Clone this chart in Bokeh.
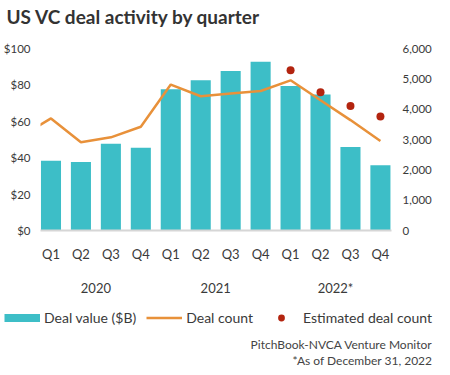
from bokeh.plotting import figure
from bokeh.layouts import column
from bokeh.models import (Range1d, LinearAxis, FixedTicker, NumeralTickFormatter,
                          Legend, LegendItem, Label)
from bokeh.embed import file_html
from bokeh.resources import INLINE

# ---- data ----
quarters = ["Q1", "Q2", "Q3", "Q4"] * 3
years = ["2020", "2021", "2022*"]
deal_value = [38.3, 37.7, 47.7, 45.4, 77.6, 82.5, 87.6, 92.7, 79.4, 74.7, 45.9, 35.9]
deal_count = [3695, 2908, 3072, 3420, 4810, 4426, 4515, 4600, 4951, 4295, 3640, 2950]
prior_deal_count = 3110          # Q4 2019, the line enters from the left edge
estimated_count = [5279, 4557, 4108, 3760]   # 2022 Q1-Q4
value_ticks = [0, 20, 40, 60, 80, 100]
count_ticks = [0, 1000, 2000, 3000, 4000, 5000, 6000]
legend_labels = ["Deal value ($B)", "Deal count", "Estimated deal count"]
source_lines = ["PitchBook-NVCA Venture Monitor", "*As of December 31, 2022"]

TEAL = "#3dbec7"
ORANGE = "#e8913a"
RED = "#b3240f"
TXT = "#3a3a3a"
FONT = "Lato"
W = 434

idx = list(range(len(quarters)))
line_x = [-1] + idx
line_y = [prior_deal_count] + deal_count
est_x = idx[-len(estimated_count):]
year_pos = [sum(idx[4 * i:4 * i + 4]) / 4 for i in range(len(years))]

# ---------------- main chart ----------------
p = figure(width=W, height=298, x_range=Range1d(-0.35, 11.37), y_range=Range1d(0, 100),
           output_backend="svg", toolbar_location=None,
           min_border_left=0, min_border_right=0, min_border_top=48, min_border_bottom=0)
p.frame_align = False
p.extra_y_ranges = {"count": Range1d(0, 6000)}
p.outline_line_color = None
p.xgrid.visible = False
p.ygrid.visible = False

p.title.text = "US VC deal activity by quarter"
p.title.text_font = FONT
p.title.text_font_size = "19px"
p.title.text_font_style = "bold"
p.title.text_color = "#333333"
p.title.standoff = 0
p.title.padding = (0, 0, 0, 21)
p.title.offset = -34

p.vbar(x=idx, top=deal_value, width=0.67, fill_color=TEAL, line_color=None)
p.line(line_x, line_y, line_color=ORANGE, line_width=2.5, y_range_name="count")
p.scatter(est_x, estimated_count, size=8, fill_color=RED, line_color=None,
          y_range_name="count")

ya = p.yaxis[0]
ya.ticker = FixedTicker(ticks=value_ticks)
ya.formatter = NumeralTickFormatter(format="$0")
ya.axis_line_color = None
ya.major_tick_line_color = None
ya.minor_tick_line_color = None
ya.major_label_text_font = FONT
ya.major_label_text_font_size = "11.5px"
ya.major_label_text_color = TXT
ya.major_label_standoff = 4

ra = LinearAxis(y_range_name="count", ticker=FixedTicker(ticks=count_ticks),
                formatter=NumeralTickFormatter(format="0,0"),
                axis_line_color=None, major_tick_line_color=None, minor_tick_line_color=None,
                major_label_text_font=FONT, major_label_text_font_size="11.5px",
                major_label_text_color=TXT, major_label_standoff=5)
p.add_layout(ra, "right")

xa = p.xaxis[0]
xa.ticker = FixedTicker(ticks=idx)
xa.major_label_overrides = {i: q for i, q in zip(idx, quarters)}
xa.axis_line_color = "#d6d6d6"
xa.axis_line_width = 2
xa.major_tick_line_color = None
xa.minor_tick_line_color = None
xa.major_label_text_font = FONT
xa.major_label_text_font_size = "13px"
xa.major_label_text_color = TXT
xa.major_label_standoff = 9

ya2 = LinearAxis(ticker=FixedTicker(ticks=year_pos),
                 major_label_overrides={pos: y for pos, y in zip(year_pos, years)},
                 axis_line_color=None, major_tick_line_color=None, minor_tick_line_color=None,
                 major_label_text_font=FONT, major_label_text_font_size="13px",
                 major_label_text_color=TXT, major_label_standoff=9)
p.add_layout(ya2, "below")

# ---------------- legend + source strip ----------------
H2 = 69
q = figure(width=W, height=H2, x_range=Range1d(0, W), y_range=Range1d(0, H2),
           output_backend="svg", toolbar_location=None,
           min_border_left=0, min_border_right=0, min_border_top=0, min_border_bottom=0)
q.frame_align = False
q.axis.visible = False
q.grid.visible = False
q.outline_line_color = None
# hidden proxies that give the legend its swatches
r_bar = q.line(idx, deal_value, line_color=TEAL, line_width=8, visible=False)
r_line = q.line(idx, deal_count, line_color=ORANGE, line_width=2.5, visible=False)
r_dot = q.scatter(est_x, estimated_count, size=8, fill_color=RED, line_color=None,
                  visible=False)

legend = Legend(items=[LegendItem(label=lab, renderers=[r])
                       for lab, r in zip(legend_labels, [r_bar, r_line, r_dot])],
                orientation="horizontal", location=(4, 41),
                glyph_width=36, glyph_height=17, label_standoff=4, spacing=10,
                padding=2, margin=0, border_line_color=None, background_fill_alpha=0,
                inactive_fill_alpha=0, click_policy="none",
                label_text_font=FONT, label_text_font_size="14px", label_text_color=TXT)
q.add_layout(legend, "center")

for t, yc in zip(source_lines, [23, 7]):
    q.add_layout(Label(x=W - 2, y=yc, x_units="screen", y_units="screen", text=t,
                       text_align="right", text_baseline="middle", text_font=FONT,
                       text_font_size="12px", text_color="#444444"))

layout = column(p, q, spacing=0)
open("out.html", "w").write(file_html(layout, INLINE))
